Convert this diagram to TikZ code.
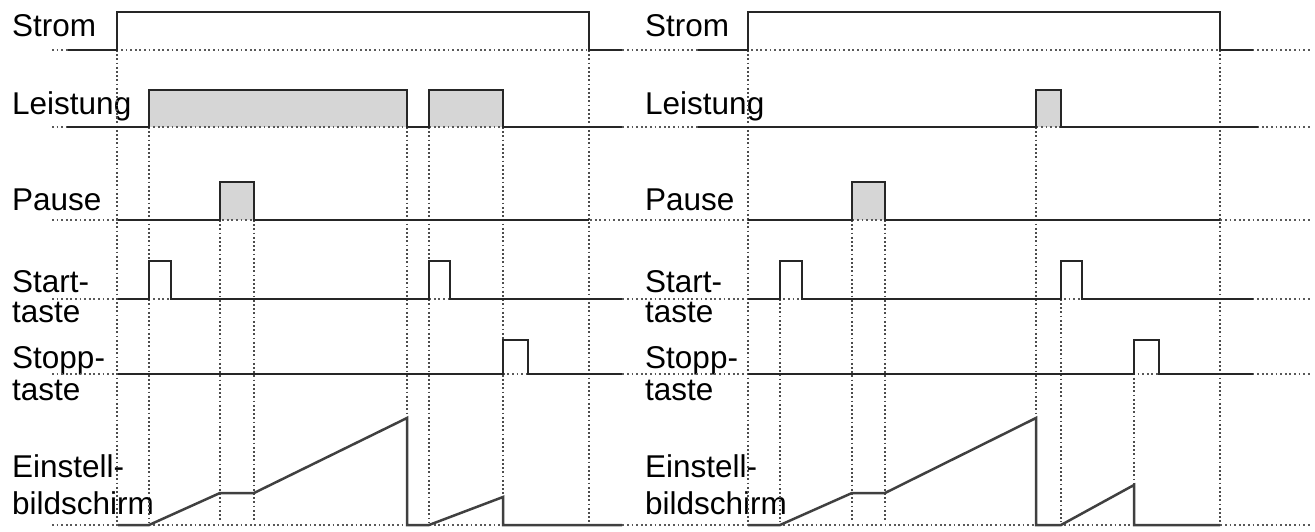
\documentclass[tikz,border=0pt]{standalone}
\usepackage{fontspec}
\setmainfont{Liberation Sans}
\usetikzlibrary{positioning}

\begin{document}
\begin{tikzpicture}[
    x=1pt, y=-1pt,
    lbl/.style={anchor=base west, inner sep=0pt, font=\fontsize{31.5}{36}\selectfont},
    sig/.style={line width=2.5pt, black!85, line join=miter},
    ramp/.style={line width=2.5pt, black!75},
    pulsefill/.style={fill=black!16},
    gridline/.style={line width=2pt, black!70, dash pattern=on 1.8pt off 2.4pt},
    baseline/.style={line width=2pt, black!65, dash pattern=on 1.8pt off 2.8pt}
]
\useasboundingbox (0,0) rectangle (1315,532);

% Labels, left side
\node[lbl] (strom1) at (12,37) {Strom};
\node[lbl] (leist1) at (12,115) {Leistung};
\node[lbl] (pause1) at (12,211) {Pause};
\node[lbl] (start1) at (12,292) {Start-};
\node[lbl] (start1b) at (12,322) {taste};
\node[lbl] (stopp1) at (12,368) {Stopp-};
\node[lbl] (stopp1b) at (12,400) {taste};
\node[lbl] (einst1) at (12,477) {Einstell-};
\node[lbl] (einst1b) at (12,514) {bildschirm};

% Labels, right side
\node[lbl] (strom2) at (645,37) {Strom};
\node[lbl] (leist2) at (645,115) {Leistung};
\node[lbl] (pause2) at (645,211) {Pause};
\node[lbl] (start2) at (645,292) {Start-};
\node[lbl] (start2b) at (645,322) {taste};
\node[lbl] (stopp2) at (645,368) {Stopp-};
\node[lbl] (stopp2b) at (645,400) {taste};
\node[lbl] (einst2) at (645,477) {Einstell-};
\node[lbl] (einst2b) at (645,514) {bildschirm};

% Gray pulses
\fill[pulsefill] (149,127) rectangle (407,90);
\fill[pulsefill] (429,127) rectangle (503,90);
\fill[pulsefill] (220,220) rectangle (254,182);
\fill[pulsefill] (1036,127) rectangle (1061,90);
\fill[pulsefill] (852,220) rectangle (885,182);

% Dotted zero levels
\draw[baseline] (52,50) -- (1310,50);
\draw[baseline] (52,127) -- (1310,127);
\draw[baseline] (52,220) -- (1310,220);
\draw[baseline] (52,299) -- (1310,299);
\draw[baseline] (52,374) -- (1310,374);
\draw[baseline] (52,525) -- (1310,525);

% Dotted time marks, left
\draw[gridline] (117,50) -- (117,522);
\draw[gridline] (149,127) -- (149,522);
\draw[gridline] (220,220) -- (220,522);
\draw[gridline] (254,220) -- (254,522);
\draw[gridline] (407,127) -- (407,522);
\draw[gridline] (429,127) -- (429,522);
\draw[gridline] (503,127) -- (503,522);
\draw[gridline] (589,50) -- (589,522);

% Dotted time marks, right
\draw[gridline] (748,50) -- (748,522);
\draw[gridline] (780,261) -- (780,522);
\draw[gridline] (852,220) -- (852,522);
\draw[gridline] (885,220) -- (885,522);
\draw[gridline] (1036,127) -- (1036,522);
\draw[gridline] (1061,261) -- (1061,522);
\draw[gridline] (1134,340) -- (1134,522);
\draw[gridline] (1220,50) -- (1220,522);

% Signals, left
\draw[sig] (68,50) -- (117,50) -- (117,12) -- (589,12) -- (589,50) -- (622,50);
\draw[sig] (67,127) -- (149,127) -- (149,90) -- (407,90) -- (407,127) -- (429,127)
    -- (429,90) -- (503,90) -- (503,127) -- (622,127);
\draw[sig] (118,220) -- (220,220) -- (220,182) -- (254,182) -- (254,220) -- (589,220);
\draw[sig] (118,299) -- (149,299) -- (149,261) -- (171,261) -- (171,299) -- (429,299)
    -- (429,261) -- (450,261) -- (450,299) -- (622,299);
\draw[sig] (118,374) -- (503,374) -- (503,340) -- (528,340) -- (528,374) -- (622,374);
\draw[ramp] (118,525) -- (149,525) -- (220,493) -- (254,493) -- (407,418) -- (407,525)
    -- (429,525) -- (503,497) -- (503,525) -- (622,525);

% Signals, right
\draw[sig] (698,50) -- (748,50) -- (748,12) -- (1220,12) -- (1220,50) -- (1253,50);
\draw[sig] (698,127) -- (1036,127) -- (1036,90) -- (1061,90) -- (1061,127) -- (1258,127);
\draw[sig] (748,220) -- (852,220) -- (852,182) -- (885,182) -- (885,220) -- (1220,220);
\draw[sig] (748,299) -- (780,299) -- (780,261) -- (802,261) -- (802,299) -- (1061,299)
    -- (1061,261) -- (1082,261) -- (1082,299) -- (1253,299);
\draw[sig] (748,374) -- (1134,374) -- (1134,340) -- (1159,340) -- (1159,374) -- (1253,374);
\draw[ramp] (748,525) -- (780,525) -- (852,493) -- (885,493) -- (1036,418) -- (1036,525)
    -- (1061,525) -- (1134,485) -- (1134,525) -- (1220,525);

\end{tikzpicture}
\end{document}
